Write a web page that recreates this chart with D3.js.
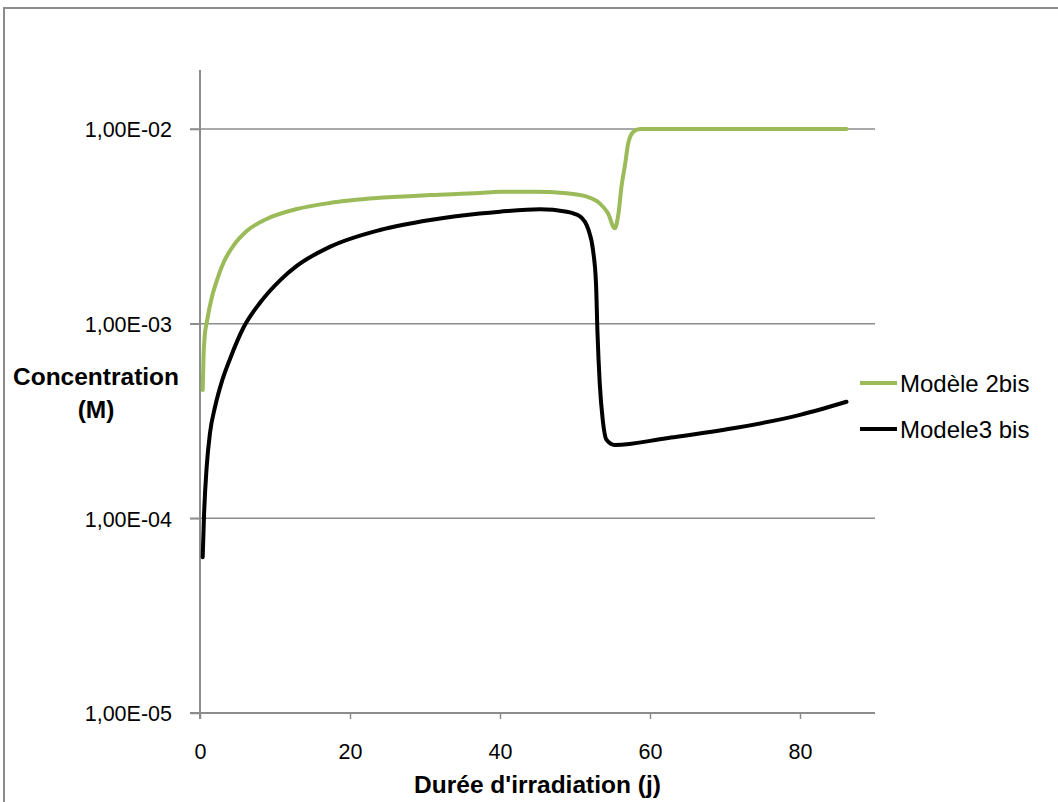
<!DOCTYPE html>
<html>
<head>
<meta charset="utf-8">
<script src="https://cdn.jsdelivr.net/npm/d3@7"></script>
<style>
  html, body { margin: 0; padding: 0; background: #fff; overflow: hidden; }
  svg { display: block; font-family: "Liberation Sans", Arial, sans-serif; }
</style>
</head>
<body>
<svg id="chart" width="1058" height="802"></svg>
<script>
// ---- Data ----
const xTicks = [0, 20, 40, 60, 80];
const yTicks = [1e-5, 1e-4, 1e-3, 1e-2];
const yTickLabels = ["1,00E-05", "1,00E-04", "1,00E-03", "1,00E-02"];

const seriesNames = ["Modèle 2bis", "Modele3 bis"];

const modele2Days = [0.36, 0.48, 0.64, 0.89, 1.56, 2.23, 3.11, 4.44, 6.23, 8.89, 12.9, 17.3, 24, 30.7, 37.3,
  40, 44.4, 48.9, 51.6, 53.3, 54.4, 55.3, 55.8, 56.2, 56.7, 57.1, 57.8, 58.7, 65, 75, 86.2];
const modele2Values = [4.56e-4, 6.9e-4, 8.75e-4, 1.01e-3, 1.36e-3, 1.66e-3, 2.05e-3, 2.51e-3, 2.99e-3, 3.45e-3,
  3.88e-3, 4.17e-3, 4.43e-3, 4.58e-3, 4.69e-3,
  4.76e-3, 4.76e-3, 4.68e-3, 4.49e-3, 4.15e-3, 3.69e-3, 3.09e-3, 3.69e-3, 5.06e-3, 6.67e-3, 8.45e-3,
  9.69e-3, 1.0e-2, 1.0e-2, 1.0e-2, 1.0e-2];

const modele3Days = [0.36, 0.53, 0.89, 1.33, 2.0, 2.89, 4.0, 5.77, 8.0, 10.67, 12.9, 17.3, 24, 30.7, 37.3,
  40, 45.3, 48.9, 50.7, 51.8, 52.4, 52.8, 53.0, 53.3, 53.7, 54.2, 55.3, 62.2, 71.1, 80, 86.2];
const modele3Values = [6.32e-5, 1.02e-4, 1.84e-4, 2.74e-4, 3.73e-4, 5.01e-4, 6.59e-4, 9.5e-4, 1.28e-3, 1.67e-3,
  1.98e-3, 2.48e-3, 3.03e-3, 3.41e-3, 3.68e-3,
  3.76e-3, 3.87e-3, 3.76e-3, 3.55e-3, 3.03e-3, 2.39e-3, 1.61e-3, 8.93e-4, 4.94e-4, 3.2e-4, 2.53e-4, 2.38e-4,
  2.58e-4, 2.9e-4, 3.4e-4, 3.97e-4];

const series = [
  { name: seriesNames[0], color: "#9BBB59", data: modele2Days.map((d, i) => ({ x: d, y: modele2Values[i] })) },
  { name: seriesNames[1], color: "#000000", data: modele3Days.map((d, i) => ({ x: d, y: modele3Values[i] })) }
];

// ---- Layout ----
const svg = d3.select("#chart");
const plot = { left: 200, right: 875, top: 70, bottom: 713 };
const gridColor = "#8c8c8c";

const x = d3.scaleLinear().domain([0, 90]).range([plot.left, plot.right]);
const y = d3.scaleLog().domain([1e-5, 0.0201]).range([plot.bottom, plot.top]);

// outer border
svg.append("rect")
  .attr("x", 4).attr("y", 8).attr("width", 1100).attr("height", 900)
  .attr("fill", "none").attr("stroke", "#8c8c8c").attr("stroke-width", 2);

// gridlines (with the tick extension to the left)
svg.append("g").selectAll("line").data(yTicks.slice(1)).join("line")
  .attr("x1", plot.left - 10).attr("x2", plot.right)
  .attr("y1", d => y(d)).attr("y2", d => y(d))
  .attr("stroke", gridColor).attr("stroke-width", 1.5);

// x axis
const xAxis = d3.axisBottom(x).tickValues(xTicks).tickSize(6).tickFormat(d3.format("d"));
const gx = svg.append("g").attr("transform", `translate(0,${plot.bottom})`).call(xAxis);
gx.select(".domain").remove();
gx.selectAll(".tick line").attr("stroke", gridColor).attr("stroke-width", 1.5);
gx.selectAll(".tick text").attr("y", 0).attr("dy", null).attr("transform", "translate(0,46)")
  .attr("font-size", 21.5).attr("fill", "#000").attr("font-family", "Liberation Sans, Arial, sans-serif");
svg.append("line")
  .attr("x1", plot.left - 10).attr("x2", plot.right)
  .attr("y1", plot.bottom).attr("y2", plot.bottom)
  .attr("stroke", gridColor).attr("stroke-width", 2);

// y axis
const yAxis = d3.axisLeft(y).tickValues(yTicks).tickSize(10).tickFormat((d, i) => yTickLabels[i]);
const gy = svg.append("g").attr("transform", `translate(${plot.left},0)`).call(yAxis);
gy.select(".domain").remove();
gy.selectAll(".tick line").attr("stroke", gridColor).attr("stroke-width", 1.5);
gy.selectAll(".tick text").attr("x", -28).attr("dy", "0.36em")
  .attr("font-size", 21.5).attr("fill", "#000").attr("font-family", "Liberation Sans, Arial, sans-serif");
svg.append("line")
  .attr("x1", plot.left).attr("x2", plot.left)
  .attr("y1", plot.top).attr("y2", plot.bottom + 6)
  .attr("stroke", gridColor).attr("stroke-width", 2);

// series lines
const line = d3.line().x(d => x(d.x)).y(d => y(d.y)).curve(d3.curveMonotoneX);
svg.append("g").selectAll("path").data(series).join("path")
  .attr("d", d => line(d.data))
  .attr("fill", "none")
  .attr("stroke", d => d.color)
  .attr("stroke-width", 4)
  .attr("stroke-linejoin", "round")
  .attr("stroke-linecap", "round");

// axis titles
const yTitle = svg.append("text").attr("font-weight", "bold").attr("font-size", 24.5)
  .attr("text-anchor", "middle").attr("fill", "#000");
yTitle.append("tspan").attr("x", 96).attr("y", 385).text("Concentration");
yTitle.append("tspan").attr("x", 96).attr("y", 418).text("(M)");

svg.append("text").attr("x", (plot.left + plot.right) / 2).attr("y", 793)
  .attr("font-weight", "bold").attr("font-size", 24.5)
  .attr("text-anchor", "middle").attr("fill", "#000")
  .text("Durée d'irradiation (j)");

// legend
const legend = svg.append("g").selectAll("g").data(series).join("g")
  .attr("transform", (d, i) => `translate(860,${383 + i * 46})`);
legend.append("line").attr("x1", 0).attr("x2", 37).attr("y1", 0).attr("y2", 0)
  .attr("stroke", d => d.color).attr("stroke-width", 4);
legend.append("text").attr("x", 40).attr("y", 9).attr("font-size", 24).attr("fill", "#000")
  .text(d => d.name);
</script>
</body>
</html>
